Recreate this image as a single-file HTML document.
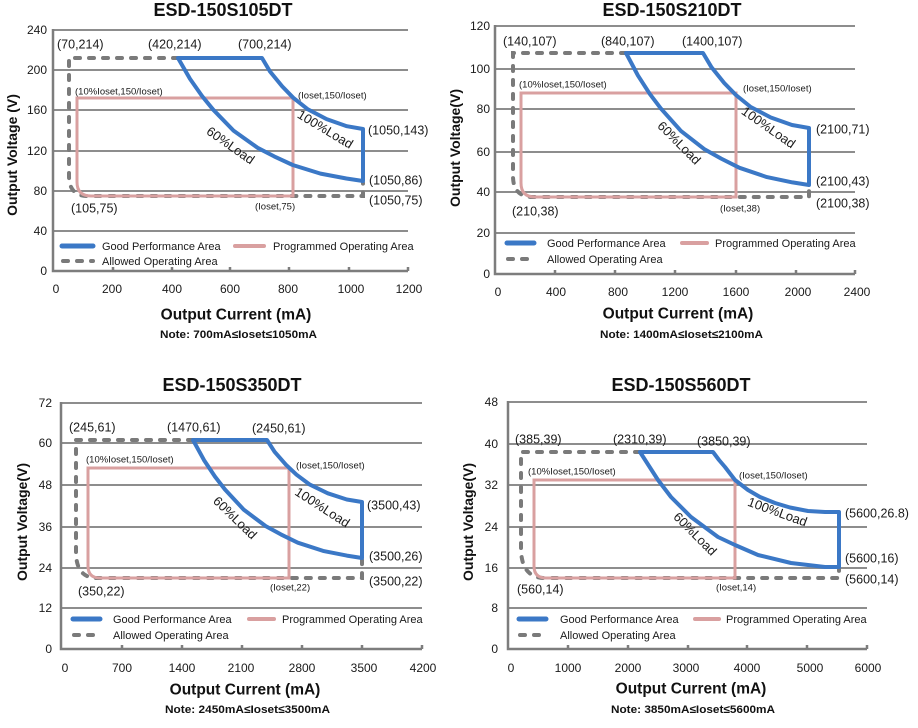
<!DOCTYPE html>
<html><head><meta charset="utf-8"><style>
html,body{margin:0;padding:0;background:#fff;}
svg{display:block;}
text{font-family:"Liberation Sans",Arial,sans-serif;fill:#1a1a1a;}
.tk{font-size:12px;}
.pl{font-size:12.5px;}
.sm{font-size:9.5px;}
.lg{font-size:11px;fill:#222;}
.ttl{font-size:18px;font-weight:bold;fill:#111;}
.xt{font-size:15.5px;font-weight:bold;fill:#111;}
.yt{font-size:14px;font-weight:bold;fill:#111;}
.nt{font-size:11px;font-weight:bold;fill:#111;}
.ld{font-size:13px;}
.g{stroke:#8d8d8d;stroke-width:2;fill:none;}
.ax{stroke:#7d7d7d;stroke-width:2.5;fill:none;}
.blue{stroke:#3b78c6;stroke-width:4;fill:none;stroke-linejoin:round;}
.pink{stroke:#d9a0a0;stroke-width:3;fill:none;}
.dash{stroke:#7a7a7a;stroke-width:4;fill:none;stroke-dasharray:5 9;stroke-linecap:round;}
</style></head><body>
<svg width="918" height="728" viewBox="0 0 918 728" xmlns="http://www.w3.org/2000/svg">
<rect width="918" height="728" fill="#fff"/>

<!-- ================= CHART 1 ================= -->
<g>
<path class="g" d="M53,30H408M53,70H408M53,110H408M53,151H408M53,191H408M53,231H408"/>
<path class="ax" d="M53,29V271H408"/>
<path class="ax" stroke-width="2" d="M113,271V267M172,271V267M230,271V267M289,271V267M349,271V267M408,271V267"/>
<g class="tk" text-anchor="end">
<text x="47" y="34">240</text><text x="47" y="74">200</text><text x="47" y="114">160</text><text x="47" y="155">120</text><text x="47" y="195">80</text><text x="47" y="235">40</text><text x="47" y="275">0</text>
</g>
<g class="tk" text-anchor="middle">
<text x="56" y="293">0</text><text x="112" y="293">200</text><text x="172" y="293">400</text><text x="230" y="293">600</text><text x="288" y="293">800</text><text x="351" y="293">1000</text><text x="409" y="293">1200</text>
</g>
<text class="ttl" x="223" y="16" text-anchor="middle">ESD-150S105DT</text>
<text class="xt" x="236" y="319.5" text-anchor="middle">Output Current (mA)</text>
<text class="nt" x="160" y="338" textLength="157" lengthAdjust="spacingAndGlyphs">Note:  700mA≤Ioset≤1050mA</text>
<text class="yt" transform="translate(17,155) rotate(-90)" text-anchor="middle">Output Voltage (V)</text>

<path class="dash" d="M178,58H69V176Q69,196 88,196H363V183"/>
<path class="pink" d="M293,98H77V182Q77,196 91,196H293Z"/>
<path class="blue" d="M178,58L262,58L270,71.5L282.2,86.4L293.3,97.8L307.5,109.1L326.6,119.1L346.8,126.2L363,129L363,181L346.4,178.5L320.5,173.6L292.7,165L274.2,156.4L257.6,147.8L233.5,130.6L213.2,109.7L202.1,96.1L190,78.9Z"/>

<g class="pl">
<text x="57" y="48.5">(70,214)</text><text x="148" y="48.5">(420,214)</text><text x="238" y="48.5">(700,214)</text>
<text x="368" y="134.5">(1050,143)</text><text x="369" y="184.5">(1050,86)</text><text x="369" y="204.5">(1050,75)</text>
<text x="71" y="212.5">(105,75)</text>
</g>
<g class="sm">
<text x="75" y="94.5">(10%Ioset,150/Ioset)</text><text x="298" y="98.5">(Ioset,150/Ioset)</text><text x="255" y="209.5">(Ioset,75)</text>
</g>
<text class="ld" text-anchor="middle" transform="translate(323,133) rotate(31)">100%Load</text>
<text class="ld" text-anchor="middle" transform="translate(228,149) rotate(35)">60%Load</text>

<path stroke="#3b78c6" stroke-width="5" stroke-linecap="round" d="M62,246H93"/>
<path stroke="#d9a0a0" stroke-width="4" stroke-linecap="round" d="M235,246H264"/>
<path class="dash" d="M63,261H93" stroke-dasharray="5 7"/>
<g class="lg">
<text x="102" y="250">Good Performance Area</text><text x="273" y="250">Programmed Operating Area</text><text x="102" y="265">Allowed Operating Area</text>
</g>
</g>

<!-- ================= CHART 2 ================= -->
<g>
<path class="g" d="M495,26H855M495,69H855M495,109H855M495,152H855M495,192H855M495,233H855"/>
<path class="ax" d="M495,25V274H855"/>
<path class="ax" stroke-width="2" d="M555,274V270M615,274V270M675,274V270M736,274V270M796,274V270M855,274V270"/>
<g class="tk" text-anchor="end">
<text x="490" y="30">120</text><text x="490" y="73">100</text><text x="490" y="113">80</text><text x="490" y="156">60</text><text x="490" y="196">40</text><text x="490" y="237">20</text><text x="490" y="278">0</text>
</g>
<g class="tk" text-anchor="middle">
<text x="498" y="296">0</text><text x="556" y="296">400</text><text x="618" y="296">800</text><text x="675" y="296">1200</text><text x="736" y="296">1600</text><text x="798" y="296">2000</text><text x="857" y="296">2400</text>
</g>
<text class="ttl" x="672" y="16" text-anchor="middle">ESD-150S210DT</text>
<text class="xt" x="678" y="318.5" text-anchor="middle">Output Current (mA)</text>
<text class="nt" x="600" y="338" textLength="163" lengthAdjust="spacingAndGlyphs">Note:  1400mA≤Ioset≤2100mA</text>
<text class="yt" transform="translate(460,148) rotate(-90)" text-anchor="middle">Output Voltage(V)</text>

<path class="dash" d="M626,53H513V176Q513,197 533,197H809V185"/>
<path class="pink" d="M736,93H521V183Q521,197 535,197H736Z"/>
<path class="blue" d="M626,53L703,53L711.5,67.3L724.2,83L735.9,95L750.7,107L770.8,117.5L792,125L809,128L809,185L792.5,182.4L766.9,177.1L739.5,167.8L721.2,158.6L704.7,149.4L680.9,130.9L660.8,108.4L649.8,93.9L637.9,75.4Z"/>

<g class="pl">
<text x="503" y="45.5">(140,107)</text><text x="601" y="45.5">(840,107)</text><text x="682" y="45.5">(1400,107)</text>
<text x="816" y="133.5">(2100,71)</text><text x="816" y="185.5">(2100,43)</text><text x="816" y="207.5">(2100,38)</text>
<text x="512" y="215.5">(210,38)</text>
</g>
<g class="sm">
<text x="519" y="87.5">(10%Ioset,150/Ioset)</text><text x="743" y="91.5">(Ioset,150/Ioset)</text><text x="720" y="211.5">(Ioset,38)</text>
</g>
<text class="ld" text-anchor="middle" transform="translate(766,131) rotate(35)">100%Load</text>
<text class="ld" text-anchor="middle" transform="translate(676,146) rotate(45)">60%Load</text>

<path stroke="#3b78c6" stroke-width="5" stroke-linecap="round" d="M507,243H534"/>
<path stroke="#d9a0a0" stroke-width="4" stroke-linecap="round" d="M682,243H707"/>
<path class="dash" d="M508,259H534" stroke-dasharray="5 7"/>
<g class="lg">
<text x="547" y="247">Good Performance Area</text><text x="715" y="247">Programmed Operating Area</text><text x="547" y="263">Allowed Operating Area</text>
</g>
</g>

<!-- ================= CHART 3 ================= -->
<g>
<path class="g" d="M61,403H422M61,443H422M61,485H422M61,527H422M61,568H422M61,608H422"/>
<path class="ax" d="M61,402V649H422"/>
<path class="ax" stroke-width="2" d="M122,649V645M182,649V645M242,649V645M302,649V645M362,649V645M422,649V645"/>
<g class="tk" text-anchor="end">
<text x="52" y="407">72</text><text x="52" y="447">60</text><text x="52" y="489">48</text><text x="52" y="531">36</text><text x="52" y="572">24</text><text x="52" y="612">12</text><text x="52" y="653">0</text>
</g>
<g class="tk" text-anchor="middle">
<text x="65" y="672">0</text><text x="122" y="672">700</text><text x="182" y="672">1400</text><text x="241" y="672">2100</text><text x="302" y="672">2800</text><text x="364" y="672">3500</text><text x="423" y="672">4200</text>
</g>
<text class="ttl" x="232" y="391" text-anchor="middle">ESD-150S350DT</text>
<text class="xt" x="245" y="694.5" text-anchor="middle">Output Current (mA)</text>
<text class="nt" x="165" y="713" textLength="165" lengthAdjust="spacingAndGlyphs">Note:  2450mA≤Ioset≤3500mA</text>
<text class="yt" transform="translate(27,522) rotate(-90)" text-anchor="middle">Output Voltage(V)</text>

<path class="dash" d="M193,440H76V552Q76,578 97,578H362V560"/>
<path class="pink" d="M289,468H88V566Q88,578 100,578H289Z"/>
<path class="blue" d="M193,440L267,440L274.6,451.8L286,464.8L296.5,474.7L309.8,484.6L327.8,493.3L346.8,499.5L362,502L362,558L346.8,555.6L323.1,550.9L297.8,542.7L280.9,534.4L265.7,526.1L243.7,509.6L225.1,489.6L215,476.6L204,460.1Z"/>

<g class="pl">
<text x="69" y="431.5">(245,61)</text><text x="167" y="431.5">(1470,61)</text><text x="252" y="432.5">(2450,61)</text>
<text x="367" y="509.5">(3500,43)</text><text x="369" y="560.5">(3500,26)</text><text x="369" y="585.5">(3500,22)</text>
<text x="78" y="595.5">(350,22)</text>
</g>
<g class="sm">
<text x="86" y="462.5">(10%Ioset,150/Ioset)</text><text x="296" y="468.5">(Ioset,150/Ioset)</text><text x="270" y="590.5">(Ioset,22)</text>
</g>
<text class="ld" text-anchor="middle" transform="translate(320,511) rotate(33)">100%Load</text>
<text class="ld" text-anchor="middle" transform="translate(232,521) rotate(44)">60%Load</text>

<path stroke="#3b78c6" stroke-width="5" stroke-linecap="round" d="M73,619H100"/>
<path stroke="#d9a0a0" stroke-width="4" stroke-linecap="round" d="M249,619H274"/>
<path class="dash" d="M74,635H100" stroke-dasharray="5 7"/>
<g class="lg">
<text x="113" y="623">Good Performance Area</text><text x="282" y="623">Programmed Operating Area</text><text x="113" y="639">Allowed Operating Area</text>
</g>
</g>

<!-- ================= CHART 4 ================= -->
<g>
<path class="g" d="M508,402H867M508,444H867M508,485H867M508,527H867M508,568H867M508,608H867"/>
<path class="ax" d="M508,401V649H867"/>
<path class="ax" stroke-width="2" d="M568,649V645M628,649V645M688,649V645M747,649V645M807,649V645M867,649V645"/>
<g class="tk" text-anchor="end">
<text x="498" y="406">48</text><text x="498" y="448">40</text><text x="498" y="489">32</text><text x="498" y="531">24</text><text x="498" y="572">16</text><text x="498" y="612">8</text><text x="498" y="653">0</text>
</g>
<g class="tk" text-anchor="middle">
<text x="511" y="672">0</text><text x="568" y="672">1000</text><text x="628" y="672">2000</text><text x="686" y="672">3000</text><text x="747" y="672">4000</text><text x="810" y="672">5000</text><text x="868" y="672">6000</text>
</g>
<text class="ttl" x="681" y="391" text-anchor="middle">ESD-150S560DT</text>
<text class="xt" x="691" y="693.5" text-anchor="middle">Output Current (mA)</text>
<text class="nt" x="611" y="713" textLength="164" lengthAdjust="spacingAndGlyphs">Note:  3850mA≤Ioset≤5600mA</text>
<text class="yt" transform="translate(473,522) rotate(-90)" text-anchor="middle">Output Voltage(V)</text>

<path class="dash" d="M640,452H521V548Q521,578 545,578H839V568"/>
<path class="pink" d="M735,480H534V566Q534,578 546,578H735Z"/>
<path class="blue" d="M640,452L713,452L719,460L725,467L735,480L748,490L760,497L775,503L790,507.5L808,511L825,512L839,512L839,567L825,567L791,563L758,555L735,545L718,537L691,517L671,497L658,480Z"/>

<g class="pl">
<text x="515" y="443.5">(385,39)</text><text x="613" y="443.5">(2310,39)</text><text x="697" y="445.5">(3850,39)</text>
<text x="845" y="517.5">(5600,26.8)</text><text x="845" y="562.5">(5600,16)</text><text x="845" y="583.5">(5600,14)</text>
<text x="517" y="593.5">(560,14)</text>
</g>
<g class="sm">
<text x="528" y="474.5">(10%Ioset,150/Ioset)</text><text x="739" y="478.5">(Ioset,150/Ioset)</text><text x="716" y="590.5">(Ioset,14)</text>
</g>
<text class="ld" text-anchor="middle" transform="translate(776,516) rotate(20)">100%Load</text>
<text class="ld" text-anchor="middle" transform="translate(692,537) rotate(45)">60%Load</text>

<path stroke="#3b78c6" stroke-width="5" stroke-linecap="round" d="M519,619H546"/>
<path stroke="#d9a0a0" stroke-width="4" stroke-linecap="round" d="M695,619H719"/>
<path class="dash" d="M520,635H546" stroke-dasharray="5 7"/>
<g class="lg">
<text x="560" y="623">Good Performance Area</text><text x="726" y="623">Programmed Operating Area</text><text x="560" y="639">Allowed Operating Area</text>
</g>
</g>
</svg>
</body></html>
